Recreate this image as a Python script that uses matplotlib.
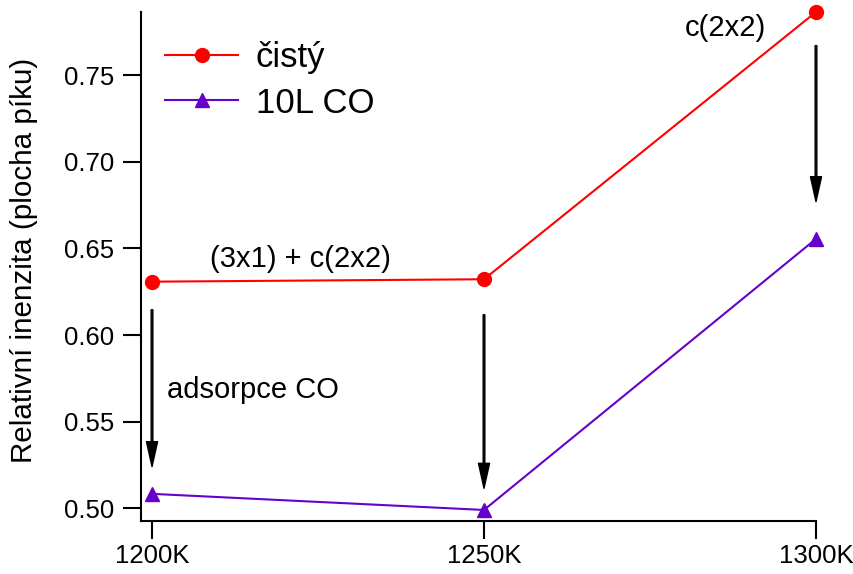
import matplotlib
matplotlib.use("Agg")
import matplotlib.pyplot as plt

plt.rcParams['font.family'] = ['Liberation Sans', 'DejaVu Sans']

# temperatures (K) and relative peak-area intensities
temps = [1200, 1250, 1300]
tick_labels = ["1200K", "1250K", "1300K"]
clean = [0.6308, 0.6322, 0.7865]
co_10L = [0.5083, 0.4990, 0.6555]
series_names = ["čistý", "10L CO"]

# arrows (x, y_start, y_tip) showing the drop after CO adsorption
arrow_x = [1200, 1250, 1300]
arrow_start = [0.6146, 0.6117, 0.7671]
arrow_tip = [0.5240, 0.5115, 0.6770]

RED = "#ff0000"
PURPLE = "#6600cc"

fig = plt.figure(figsize=(8.54, 5.74), dpi=100)
ax = fig.add_axes([141 / 854, 1 - 520.7 / 574, (816 - 141) / 854, (520.7 - 12) / 574])

ax.plot(temps, clean, color=RED, lw=1.5, marker="o", ms=10, label=series_names[0],
        clip_on=False, zorder=3)
ax.plot(temps, co_10L, color=PURPLE, lw=1.5, marker="^", ms=10, label=series_names[1],
        clip_on=False, zorder=3)

for x, y0, y1 in zip(arrow_x, arrow_start, arrow_tip):
    ax.annotate("", xy=(x, y1), xytext=(x, y0),
                arrowprops=dict(facecolor="black", edgecolor="black", width=1.2,
                                headwidth=8, headlength=18, shrink=0))

ax.text(1222.3, 0.6440, "(3x1) + c(2x2)", fontsize=21, ha="center", va="center")
ax.text(1202.2, 0.5680, "adsorpce CO", fontsize=21, ha="left", va="center")
ax.text(1286.3, 0.7775, "c(2x2)", fontsize=21, ha="center", va="center")

ax.set_xlim(1198.34, 1300)
ax.set_ylim(0.4928, 0.7865)
ax.set_xticks(temps)
ax.set_xticklabels(tick_labels)
ax.set_yticks([0.50, 0.55, 0.60, 0.65, 0.70, 0.75])
ax.set_yticklabels(["0.50", "0.55", "0.60", "0.65", "0.70", "0.75"])

for side in ("top", "right"):
    ax.spines[side].set_visible(False)
for side in ("left", "bottom"):
    ax.spines[side].set_linewidth(1.5)

ax.tick_params(axis="both", direction="out", length=13, width=1.5, labelsize=18.5)
ax.tick_params(axis="y", pad=6)
ax.tick_params(axis="x", pad=4)

ax.set_ylabel("Relativní inenzita (plocha píku)", fontsize=21.3)
ax.yaxis.set_label_coords(-0.152, 0.5125)

ax.legend(loc="upper left", bbox_to_anchor=(0.0, 0.99), frameon=False, fontsize=25,
          handlelength=2.1, handletextpad=0.5, labelspacing=0.35, borderaxespad=0.3)

fig.savefig("out.png", dpi=100)
